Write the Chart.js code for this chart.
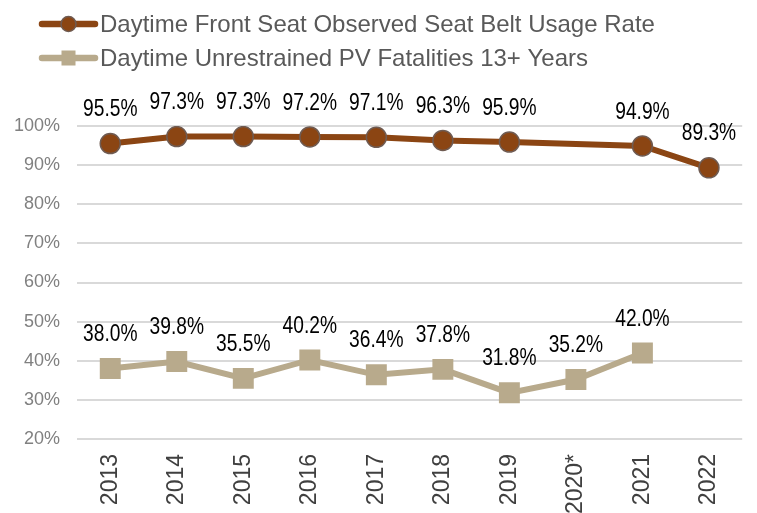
<!DOCTYPE html>
<html>
<head>
<meta charset="utf-8">
<script src="https://cdn.jsdelivr.net/npm/chart.js@4.4.0/dist/chart.umd.min.js"></script>
<style>
html,body{margin:0;padding:0;background:#fff;}
#c{display:block;}
</style>
</head>
<body>
<canvas id="c" width="757" height="513"></canvas>
<script>
const categories = ['2013','2014','2015','2016','2017','2018','2019','2020*','2021','2022'];
const seatBeltUsage = [95.5, 97.3, 97.3, 97.2, 97.1, 96.3, 95.9, null, 94.9, 89.3];
const unrestrainedFatalities = [38.0, 39.8, 35.5, 40.2, 36.4, 37.8, 31.8, 35.2, 42.0, null];
const seriesNames = ['Daytime Front Seat Observed Seat Belt Usage Rate', 'Daytime Unrestrained PV Fatalities 13+ Years'];
const yTicks = [20, 30, 40, 50, 60, 70, 80, 90, 100];

const FONT = '"Liberation Sans", Arial, sans-serif';

// detect narrow font
const probe = document.createElement('canvas').getContext('2d');
probe.font = '24px "Liberation Sans Narrow", monospace';
const wN = probe.measureText('95.5%').width;
probe.font = '24px monospace';
const wM = probe.measureText('95.5%').width;
const hasNarrow = Math.abs(wN - wM) > 0.5;

const labelPlugin = {
  id: 'valueLabels',
  afterDatasetsDraw(chart) {
    const ctx = chart.ctx;
    ctx.save();
    ctx.fillStyle = '#000';
    ctx.textAlign = 'center';
    ctx.textBaseline = 'middle';
    chart.data.datasets.forEach((ds, i) => {
      const meta = chart.getDatasetMeta(i);
      meta.data.forEach((el, j) => {
        const v = ds.data[j];
        if (v === null || v === undefined) return;
        const txt = v.toFixed(1) + '%';
        if (hasNarrow) {
          ctx.font = '24px "Liberation Sans Narrow"';
          ctx.fillText(txt, el.x, el.y - 34);
        } else {
          ctx.save();
          ctx.font = '24px ' + FONT;
          ctx.translate(el.x, el.y - 34);
          ctx.scale(0.8, 1);
          ctx.fillText(txt, 0, 0);
          ctx.restore();
        }
      });
    });
    ctx.restore();
  }
};

const legendPlugin = {
  id: 'customLegend',
  afterDraw(chart) {
    const ctx = chart.ctx;
    ctx.save();
    const rows = [24, 58];
    chart.data.datasets.forEach((ds, i) => {
      const y = rows[i];
      ctx.strokeStyle = ds.borderColor;
      ctx.lineWidth = 6.5;
      ctx.lineCap = 'round';
      ctx.beginPath();
      ctx.moveTo(42, y);
      ctx.lineTo(95, y);
      ctx.stroke();
      if (i === 0) {
        ctx.beginPath();
        ctx.arc(68.5, y, 7.5, 0, Math.PI * 2);
        ctx.fillStyle = ds.pointBackgroundColor;
        ctx.fill();
        ctx.lineWidth = 1.5;
        ctx.strokeStyle = ds.pointBorderColor;
        ctx.stroke();
      } else {
        ctx.fillStyle = ds.pointBackgroundColor;
        ctx.fillRect(61.5, y - 7.5, 14, 15);
      }
      ctx.font = '24px ' + FONT;
      ctx.fillStyle = '#595959';
      ctx.textAlign = 'left';
      ctx.textBaseline = 'middle';
      ctx.fillText(ds.label, 100, y + 1);
    });
    ctx.restore();
  }
};

new Chart(document.getElementById('c'), {
  type: 'line',
  data: {
    labels: categories,
    datasets: [
      {
        label: seriesNames[0],
        data: seatBeltUsage,
        borderColor: '#8B4513',
        backgroundColor: '#8B4513',
        pointBackgroundColor: '#8B4513',
        pointBorderColor: '#6f5b52',
        pointBorderWidth: 1.5,
        pointRadius: 10,
        pointHoverRadius: 10,
        borderWidth: 6,
        spanGaps: true,
        tension: 0
      },
      {
        label: seriesNames[1],
        data: unrestrainedFatalities,
        borderColor: '#B8AA8C',
        backgroundColor: '#B8AA8C',
        pointBackgroundColor: '#B8AA8C',
        pointBorderColor: '#B8AA8C',
        pointBorderWidth: 0,
        pointStyle: 'rect',
        pointRadius: 14.8,
        pointHoverRadius: 14.8,
        borderWidth: 6,
        spanGaps: false,
        tension: 0
      }
    ]
  },
  options: {
    responsive: false,
    animation: false,
    devicePixelRatio: 1,
    layout: { padding: { top: 126, right: 9, left: 0, bottom: 0 } },
    plugins: { legend: { display: false }, tooltip: { enabled: false } },
    scales: {
      x: {
        offset: true,
        grid: { display: false, drawTicks: false },
        border: { display: false },
        ticks: {
          minRotation: 90, maxRotation: 90, padding: 15,
          color: '#404040',
          font: { family: FONT, size: 23 }
        },
        afterFit(scale) { scale.height = 74; }
      },
      y: {
        min: 20, max: 100,
        afterBuildTicks(scale) { scale.ticks = yTicks.map(v => ({ value: v })); },
        grid: { color: '#d9d9d9', lineWidth: 2, drawTicks: false },
        border: { display: false },
        ticks: {
          padding: 17,
          color: '#808080',
          font: { family: FONT, size: 18 },
          callback: v => v + '%'
        },
        afterFit(scale) { scale.width = 77; }
      }
    }
  },
  plugins: [labelPlugin, legendPlugin]
});
</script>
</body>
</html>
